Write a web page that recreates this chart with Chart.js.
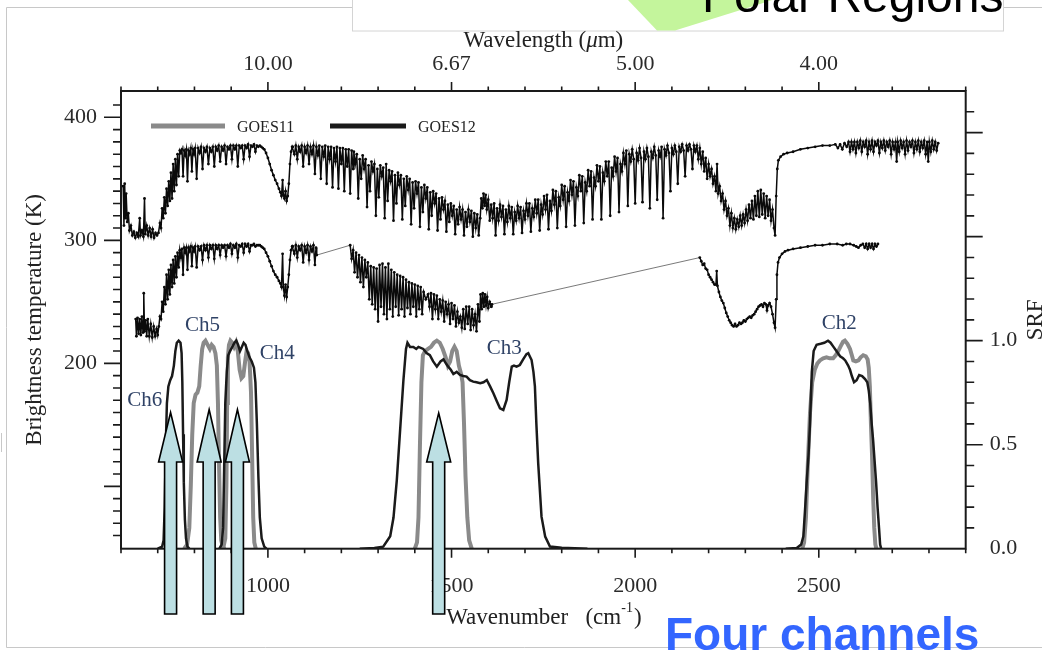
<!DOCTYPE html>
<html>
<head>
<meta charset="utf-8">
<title>GOES imager channels</title>
<script src="https://cdn.jsdelivr.net/npm/chart.js@4.4.1/dist/chart.umd.min.js"></script>
<style>
  html, body { margin: 0; padding: 0; background: #fff; }
  #wrap { position: relative; width: 1042px; height: 654px; overflow: hidden; }
  canvas { display: block; }
</style>
</head>
<body>
<div id="wrap"><canvas id="chart" width="1042" height="654"></canvas></div>
<script>
// Brightness temperature spectra (K) vs wavenumber (cm-1), warm scene on top
const upperSpectrum = [
  [606,344],[608,312],[610,346],[612,318],[614,338],[617,315],[620,322],[623,308],[627,312],[631,304],
  [635,307],[639,302],[643,306],[647,303],[651,318],[653,304],[657,308],[661,303],[664,334],[666,305],
  [670,312],[674,304],[678,310],[682,303],[686,309],[690,302],[694,306],[698,304],
  [702,306],[706,314],[709,310],[712,326],[715,318],[718,335],[721,322],[724,342],[727,328],[730,348],
  [733,332],[736,355],[739,334],[742,362],[745,340],[748,366],[751,345],[754,370],[757,352],[760,373],
  [763,371],[766,374],[769,352],[772,373],[775,369],[778,374],[781,348],[784,373],[787,370],[790,375],
  [793,356],[796,374],[799,370],[802,375],[806,350],[810,375],[814,371],[818,376],[822,358],[826,375],
  [830,372],[834,376],[838,362],[842,375],[846,372],[850,376],[854,360],[858,376],[862,373],[866,377],
  [870,364],[874,376],[878,373],[882,377],[886,362],[890,376],[894,374],[898,377],[902,366],[906,377],
  [910,374],[914,377],[918,360],[922,377],[926,375],[930,377],[934,366],[938,377],[942,375],[946,378],
  [950,368],[954,377],[958,376],[962,378],[966,372],[970,377],[974,376],[978,377],[982,376],
  [986,375],[990,374],[995,371],[1000,367],[1005,362],[1010,357],[1015,353],[1020,349],[1025,346],[1030,342],
  [1034,339],[1037,336],[1040,349],[1042,337],[1045,334],[1048,340],[1051,332],[1054,336],[1057,346],[1060,362],
  [1063,372],[1066,376],
  [1068,376],[1072,370],[1076,377],[1080,366],[1084,376],[1088,372],[1092,377],[1096,360],[1100,376],[1104,371],
  [1108,377],[1112,362],[1116,376],[1120,370],[1124,377],[1128,354],[1132,376],[1136,369],[1140,377],[1144,350],
  [1148,376],[1152,368],[1156,377],[1160,346],[1164,376],[1168,366],[1172,376],[1176,343],[1180,375],[1184,364],
  [1188,376],[1192,342],[1196,375],[1200,362],[1204,375],[1208,340],[1212,374],[1216,360],[1220,374],[1224,338],
  [1228,373],[1232,358],
  [1234,372],[1238,362],[1242,370],[1246,334],[1250,366],[1254,350],[1258,369],[1262,358],[1266,366],[1270,327],
  [1274,361],[1278,340],[1282,364],[1286,356],[1290,362],[1294,320],[1298,358],[1302,335],[1306,361],[1310,352],
  [1314,359],[1318,318],[1322,362],[1326,332],[1330,357],[1334,348],[1338,356],[1342,316],[1346,353],[1350,330],
  [1354,355],[1358,345],[1362,353],[1366,317],[1370,350],[1374,328],[1378,352],[1382,341],[1386,350],[1390,313],
  [1394,347],[1398,326],[1402,348],[1406,338],[1410,347],[1414,311],[1418,343],[1422,323],[1426,345],[1430,334],
  [1434,343],[1438,309],[1442,339],[1446,320],[1450,340],[1454,330],[1458,338],[1462,308],[1466,334],[1470,317],
  [1474,335],[1478,325],[1482,332],[1486,307],[1490,329],[1494,315],[1498,330],[1502,320],[1506,328],[1510,305],
  [1514,325],[1518,313],[1522,327],[1526,317],[1530,325],[1534,304],[1538,323],[1542,311],[1546,325],[1550,315],
  [1554,324],[1558,303],[1562,322],[1566,310],[1570,321],[1574,304],
  [1578,318],[1581,334],[1584,326],[1587,338],[1590,328],[1593,337],[1596,325],[1600,333],[1604,316],
  [1608,329],[1612,318],[1616,330],[1620,304],[1624,326],[1628,316],[1632,329],[1636,319],[1640,328],[1644,305],
  [1648,325],[1652,315],[1656,328],[1660,318],[1664,327],[1668,305],[1672,323],[1676,316],[1680,328],[1684,318],
  [1688,327],[1692,306],[1696,324],[1700,317],[1704,330],[1708,320],[1712,330],[1716,307],[1720,326],[1724,319],
  [1728,333],[1732,322],[1736,333],[1740,308],[1744,329],[1748,321],[1752,336],[1756,325],[1760,337],[1764,309],
  [1768,332],[1772,324],[1776,341],[1780,329],[1784,340],[1788,310],[1792,335],[1796,328],[1800,345],[1804,333],
  [1808,344],[1812,311],[1816,339],[1820,332],[1824,349],[1828,337],[1832,348],[1836,312],[1840,343],[1844,336],
  [1848,353],[1852,340],[1856,352],[1860,314],[1864,347],[1868,340],[1872,357],[1876,344],[1880,356],[1884,317],
  [1888,351],[1892,344],[1896,361],[1900,348],[1904,360],[1908,317],[1912,355],[1916,348],[1920,364],[1924,352],
  [1928,364],[1932,320],[1936,359],[1940,352],[1944,368],[1948,356],[1952,367],[1956,323],[1960,362],[1964,356],
  [1968,371],
  [1972,362],[1976,373],[1980,328],[1984,370],[1988,364],[1992,374],[1996,366],[2000,330],[2004,371],[2008,365],
  [2012,375],[2016,367],[2020,331],[2024,372],[2028,366],[2032,375],[2036,368],[2040,326],[2044,372],[2048,367],
  [2052,376],[2056,369],[2060,333],[2064,373],[2068,368],[2072,376],[2076,318],[2080,374],[2084,369],[2088,377],
  [2092,371],[2096,340],[2100,375],[2104,370],[2108,377],[2112,372],[2116,346],[2120,376],[2124,372],[2128,378],
  [2132,373],[2136,352],[2140,377],[2144,373],[2148,378],[2152,374],[2156,358],[2160,377],[2164,372],[2168,377],
  [2172,366],[2176,375],[2180,362],[2184,372],[2188,356],[2192,367],[2196,350],[2200,362],[2204,352],[2208,358],
  [2212,346],[2216,352],[2220,340],[2223,362],[2226,338],[2230,344],[2234,332],[2238,338],[2242,325],[2246,332],
  [2250,320],[2254,326],[2258,312],[2262,322],[2266,310],[2270,318],[2274,309],[2278,317],[2282,311],[2286,320],
  [2290,312],[2294,321],[2298,314],[2302,325],[2306,316],[2310,329],[2314,318],[2318,332],[2322,317],[2326,336],
  [2330,320],[2334,340],[2338,319],[2342,341],[2346,321],[2350,338],[2354,318],[2358,336],[2362,320],[2366,333],
  [2370,316],[2374,325],[2378,310],[2381,304],
  [2384,336],[2387,358],[2390,365],[2396,368],[2404,370],[2414,371],[2430,372],[2450,374],[2470,375],[2490,376],
  [2510,377],[2530,377],[2545,378],[2552,375],[2558,378],[2564,374],[2570,379],[2576,376],[2581,380],[2585,372],
  [2589,380],[2593,374],[2597,380],[2601,371],[2605,380],[2609,375],[2613,381],[2617,372],[2621,380],[2625,376],
  [2629,381],[2633,370],[2637,380],[2641,374],[2645,381],[2649,372],[2653,380],[2657,377],[2661,381],[2665,371],
  [2669,380],[2673,375],[2677,381],[2681,373],[2685,380],[2689,376],[2693,381],[2697,370],[2701,380],[2705,374],
  [2709,380],[2712,364],[2715,380],[2719,372],[2723,381],[2727,375],[2731,380],[2735,370],[2739,381],[2743,373],
  [2747,380],[2751,376],[2755,381],[2759,371],[2763,380],[2767,374],[2771,381],[2775,372],[2779,380],[2783,375],
  [2787,381],[2791,370],[2795,380],[2798,364],[2801,380],[2805,372],[2809,381],[2813,374],[2817,380],[2821,373],
  [2825,379]
];

// Cold scene spectrum; the long jumps are gaps bridged by a straight line
const lowerSpectrum = [
  [640,236],[642,222],[645,237],[648,224],[651,236],[654,223],[657,238],[660,225],[662,257],[664,226],
  [667,235],[670,222],[673,236],[677,222],[681,232],[685,221],[689,230],[693,222],[697,228],[700,223],
  [703,230],[706,238],[709,236],[712,250],[715,242],[718,262],[721,248],[724,272],[727,252],[730,276],
  [733,256],[736,280],[739,262],[742,284],[745,265],[748,287],[751,270],[754,290],[757,278],[760,292],
  [763,286],[766,293],[769,272],[772,294],[775,290],[778,294],[781,276],[784,294],[787,291],[790,295],
  [793,279],[796,294],[799,291],[802,295],[806,278],[810,295],[814,292],[818,295],[822,284],[826,296],
  [830,292],[834,296],[838,286],[842,296],[846,293],[850,296],[854,285],[858,296],[862,293],[866,296],
  [870,288],[874,296],[878,294],[882,296],[886,287],[890,296],[894,294],[898,297],[902,289],[906,296],
  [910,294],[914,297],[918,286],[922,296],[926,295],[930,297],[934,290],[938,297],[942,295],[946,297],
  [950,291],[954,296],[958,296],[962,297],[966,295],[970,296],[974,296],[978,296],[982,295],
  [986,294],[990,293],[995,290],[1000,287],[1005,283],[1010,279],[1015,275],[1020,272],[1025,270],[1030,267],
  [1034,265],[1037,262],[1040,289],[1042,262],[1045,255],[1048,264],[1051,254],[1054,262],[1057,272],[1060,284],
  [1063,292],[1066,295],
  [1068,295],[1072,289],[1076,296],[1080,286],[1084,295],[1088,292],[1092,296],[1096,282],[1100,295],[1104,290],
  [1108,296],[1112,284],[1116,295],[1120,291],[1124,296],[1128,280],[1131,294],[1133,288],
  [1224,296],[1228,285],[1232,292],[1236,274],[1240,290],[1244,270],[1248,288],[1252,266],[1256,286],[1260,262],
  [1264,284],[1268,270],[1272,282],[1276,252],[1280,279],[1284,248],[1288,278],[1292,244],[1296,277],[1300,234],
  [1304,280],[1308,246],[1312,281],[1316,240],[1320,278],[1324,236],[1328,281],[1332,244],[1336,276],[1340,238],
  [1344,274],[1348,246],[1352,272],[1356,239],[1360,271],[1364,244],[1368,270],[1372,238],[1376,268],[1380,245],
  [1384,266],[1388,240],[1392,265],[1396,246],[1400,264],[1404,238],[1408,263],[1412,244],[1416,262],[1420,240],
  [1424,258],[1430,252],[1436,256],[1440,246],[1444,257],[1448,236],[1452,256],[1456,244],[1460,255],[1464,236],
  [1468,252],[1472,242],[1476,251],[1480,234],[1484,250],[1488,240],[1492,248],[1496,232],[1500,249],[1504,236],
  [1508,247],[1512,230],[1516,242],[1520,233],[1524,238],[1528,229],[1532,244],[1536,228],[1540,246],[1544,232],
  [1548,246],[1552,227],[1556,244],[1560,231],[1564,240],[1568,226],[1572,248],[1576,234],[1579,256],[1582,244],
  [1585,257],[1588,246],[1591,256],[1594,247],[1597,254],[1600,245],[1604,250],[1608,246],[1610,248],
  [2176,286],[2180,283],[2184,280],[2188,281],[2192,277],[2196,276],[2200,272],[2204,270],[2208,268],[2212,266],
  [2216,264],[2220,264],[2222,275],[2224,263],[2228,258],[2232,254],[2236,251],[2240,249],[2244,245],[2248,241],
  [2252,238],[2256,235],[2260,233],[2264,231],[2268,230],[2272,232],[2276,230],[2280,231],[2284,233],[2288,232],
  [2292,233],[2296,235],[2300,234],[2304,236],[2308,237],[2312,238],[2316,237],[2320,239],[2324,240],[2328,242],
  [2332,244],[2336,246],[2340,247],[2344,248],[2348,246],[2352,249],[2356,248],[2359,243],[2362,247],[2366,249],
  [2370,246],[2374,240],[2378,233],[2381,229],
  [2384,252],[2386,272],[2389,282],[2393,286],[2400,289],[2408,291],[2416,292],[2430,293],[2450,294],[2470,295],
  [2490,296],[2510,296],[2530,297],[2550,297],[2565,296],[2575,297],[2585,297],[2595,296],[2602,295],[2608,294],
  [2614,296],[2620,297],[2625,294],[2629,297],[2633,293],[2637,297],[2641,294],[2645,297],[2649,293],[2653,297],
  [2657,295],[2661,297]
];

// Spectral response functions (normalised), GOES-12 imager
const srfCh6G12 = [[700,0],[712,0.01],[716,0.04],[719,0.2],[722,0.5],[725,0.7],[729,0.78],[734,0.81],[739,0.83],[744,0.88],[748,0.95],[752,0.99],[757,1.0],[762,0.99],[765,0.94],[767,0.8],[769,0.55],[771,0.32],[774,0.14],[777,0.05],[781,0.01],[786,0]];
const srfCh4G12 = [[868,0],[874,0.02],[878,0.1],[881,0.4],[884,0.7],[888,0.85],[892,0.93],[897,0.95],[903,0.97],[909,0.99],[914,1.0],[919,0.98],[924,0.95],[929,0.97],[934,0.99],[939,0.98],[944,0.95],[950,0.92],[956,0.9],[962,0.87],[966,0.8],[970,0.6],[974,0.35],[978,0.15],[983,0.05],[990,0.01],[996,0]];
const srfCh3G12 = [[1250,0],[1290,0.003],[1314,0.01],[1333,0.06],[1342,0.15],[1351,0.33],[1360,0.57],[1369,0.81],[1376,0.96],[1380,0.99],[1387,0.97],[1396,0.97],[1404,0.96],[1410,0.97],[1423,0.96],[1432,0.94],[1441,0.93],[1450,0.9],[1460,0.875],[1470,0.9],[1478,0.91],[1485,0.89],[1491,0.875],[1498,0.86],[1505,0.84],[1514,0.85],[1523,0.835],[1532,0.83],[1541,0.827],[1550,0.81],[1559,0.803],[1568,0.8],[1578,0.795],[1587,0.8],[1596,0.811],[1605,0.78],[1614,0.747],[1623,0.71],[1632,0.675],[1641,0.667],[1650,0.715],[1657,0.8],[1664,0.875],[1670,0.88],[1677,0.875],[1686,0.883],[1695,0.91],[1704,0.935],[1709,0.94],[1718,0.907],[1723,0.85],[1727,0.78],[1731,0.6],[1736,0.41],[1745,0.154],[1755,0.058],[1768,0.01],[1800,0.005],[1870,0]];
const srfCh2G12 = [[2410,0],[2440,0.003],[2452,0.02],[2458,0.06],[2463,0.2],[2467,0.32],[2472,0.45],[2476,0.6],[2481,0.85],[2486,0.95],[2494,0.98],[2505,0.985],[2515,0.99],[2525,1.0],[2532,0.99],[2540,0.97],[2548,0.95],[2558,0.925],[2566,0.915],[2572,0.905],[2580,0.88],[2585,0.86],[2590,0.83],[2596,0.8],[2603,0.81],[2610,0.835],[2618,0.83],[2626,0.815],[2632,0.8],[2636,0.76],[2640,0.7],[2644,0.6],[2648,0.52],[2652,0.42],[2656,0.32],[2660,0.2],[2664,0.1],[2667,0.02],[2670,0]];

// Spectral response functions, GOES-11 imager
const srfCh5G11 = [[772,0],[780,0.02],[786,0.1],[790,0.3],[794,0.55],[798,0.7],[803,0.74],[808,0.75],[813,0.78],[817,0.88],[821,0.96],[825,0.99],[830,1.0],[836,0.98],[842,0.96],[847,0.98],[852,0.97],[857,0.94],[861,0.88],[864,0.7],[867,0.4],[870,0.15],[873,0.04],[877,0.01],[882,0]];
const srfCh4G11 = [[878,0],[884,0.05],[887,0.3],[889,0.7],[891,0.92],[894,0.98],[898,1.0],[903,0.99],[908,0.97],[913,0.99],[918,0.95],[923,0.86],[928,0.82],[933,0.83],[938,0.9],[942,0.95],[946,0.94],[950,0.9],[954,0.75],[957,0.45],[960,0.15],[963,0.03],[967,0]];
const srfCh3G11 = [[1400,0],[1406,0.03],[1410,0.15],[1414,0.5],[1418,0.8],[1422,0.93],[1428,0.95],[1436,0.96],[1444,0.97],[1452,0.99],[1460,1.0],[1468,0.99],[1476,0.96],[1484,0.92],[1490,0.88],[1496,0.9],[1502,0.95],[1508,0.97],[1514,0.95],[1520,0.88],[1526,0.84],[1530,0.8],[1534,0.6],[1538,0.35],[1543,0.15],[1548,0.04],[1555,0]];
const srfCh2G11 = [[2455,0],[2460,0.03],[2465,0.15],[2470,0.4],[2476,0.65],[2482,0.8],[2489,0.86],[2496,0.89],[2503,0.905],[2512,0.915],[2521,0.92],[2530,0.915],[2539,0.915],[2546,0.93],[2553,0.95],[2560,0.975],[2566,0.995],[2571,1.0],[2578,0.985],[2585,0.96],[2590,0.93],[2594,0.905],[2601,0.9],[2608,0.905],[2614,0.92],[2621,0.93],[2628,0.925],[2633,0.91],[2636,0.87],[2639,0.78],[2642,0.6],[2645,0.45],[2648,0.25],[2651,0.1],[2654,0.02],[2657,0]];

// axis ticks
const wnTicks = [1000, 1500, 2000, 2500];
const btTicks = [200, 300, 400];
const srfTicks = [0, 0.5, 1.0];

const SERIF = '"Liberation Serif", "Times New Roman", serif';
const SANS = '"Liberation Sans", Arial, sans-serif';
const INK = '#1a1a1a';
const GRAY = '#8a8a8a';

const toXY = pairs => pairs.map(([x, y]) => ({ x, y }));

function srfLine(pairs, color, width) {
  return {
    data: toXY(pairs), yAxisID: 'y2', showLine: true,
    borderColor: color, borderWidth: width, pointRadius: 0
  };
}

function spectrumLine(pairs) {
  const isGap = c => c.p1.parsed.x - c.p0.parsed.x > 40;
  return {
    data: toXY(pairs), yAxisID: 'y', showLine: true,
    borderColor: '#0a0a0a', borderWidth: 1.5,
    pointRadius: 1.4, pointBorderWidth: 0, pointBackgroundColor: '#0a0a0a',
    segment: {
      borderColor: c => isGap(c) ? '#6a6a6a' : undefined,
      borderWidth: c => isGap(c) ? 0.9 : undefined
    }
  };
}

// first dataset ends up on top
const datasets = [
  srfLine(srfCh6G12, INK, 2.5),
  srfLine(srfCh4G12, INK, 2.5),
  srfLine(srfCh3G12, INK, 2.5),
  srfLine(srfCh2G12, INK, 2.5),
  srfLine(srfCh5G11, GRAY, 4),
  srfLine(srfCh4G11, GRAY, 4),
  srfLine(srfCh3G11, GRAY, 4),
  srfLine(srfCh2G11, GRAY, 4),
  spectrumLine(upperSpectrum),
  spectrumLine(lowerSpectrum)
];

const tickFont = { family: SERIF, size: 22 };

function fixedTicks(values) {
  return scale => { scale.ticks = values.map(v => ({ value: v })); };
}

// slide furniture behind the chart
function drawSlide(ctx) {
  ctx.save();
  ctx.fillStyle = '#fff';
  ctx.fillRect(0, 0, 1042, 654);
  ctx.strokeStyle = '#c8c8c8';
  ctx.lineWidth = 1;
  ctx.beginPath();
  ctx.moveTo(6.5, 647.5); ctx.lineTo(6.5, 7.5); ctx.lineTo(352, 7.5);
  ctx.moveTo(6.5, 647.5); ctx.lineTo(1042, 647.5);
  ctx.moveTo(1004, 7.5); ctx.lineTo(1042, 7.5);
  ctx.moveTo(1.5, 433); ctx.lineTo(1.5, 452);
  ctx.stroke();
  ctx.strokeStyle = '#d4d4d4';
  ctx.strokeRect(352.5, -2, 651, 33);
  ctx.fillStyle = '#c4f59c';
  ctx.beginPath();
  ctx.moveTo(628, 0); ctx.lineTo(657, 30.5); ctx.lineTo(675, 30.5); ctx.lineTo(760, 4); ctx.lineTo(772, 0);
  ctx.closePath(); ctx.fill();
  ctx.fillStyle = '#000';
  ctx.font = '48px ' + SANS;
  ctx.textBaseline = 'alphabetic';
  ctx.fillText('Polar Regions', 702, 12);
  ctx.restore();
}

function drawArrow(ctx, x, tipY, baseY, bottomY) {
  const shaft = 6, head = 12;
  ctx.beginPath();
  ctx.moveTo(x, tipY);
  ctx.lineTo(x + head, baseY);
  ctx.lineTo(x + shaft, baseY);
  ctx.lineTo(x + shaft, bottomY);
  ctx.lineTo(x - shaft, bottomY);
  ctx.lineTo(x - shaft, baseY);
  ctx.lineTo(x - head, baseY);
  ctx.closePath();
  ctx.fill();
  ctx.stroke();
}

const overlay = {
  id: 'overlay',
  beforeDraw(chart) { drawSlide(chart.ctx); },
  afterDraw(chart) {
    const ctx = chart.ctx;
    const a = chart.chartArea;
    const xs = chart.scales.x, yl = chart.scales.y, yr = chart.scales.y2;
    ctx.save();

    // frame and tick marks
    ctx.strokeStyle = INK;
    ctx.lineWidth = 2;
    ctx.strokeRect(a.left, a.top, a.right - a.left, a.bottom - a.top);
    ctx.lineWidth = 1.6;
    ctx.beginPath();
    for (let v = 600; v <= 2900; v += 100) {
      const px = xs.getPixelForValue(v);
      const len = v % 500 === 0 ? 9 : 4.5;
      ctx.moveTo(px, a.bottom); ctx.lineTo(px, a.bottom + len);
      ctx.moveTo(px, a.top); ctx.lineTo(px, a.top - len);
    }
    for (let v = 60; v <= 410; v += 10) {
      const py = yl.getPixelForValue(v);
      const len = v % 100 === 0 ? 17 : 8;
      ctx.moveTo(a.left, py); ctx.lineTo(a.left - len, py);
    }
    for (let i = 1; i <= 21; i++) {
      const py = yr.getPixelForValue(i / 10);
      const len = i % 5 === 0 ? 17 : 8.5;
      ctx.moveTo(a.right, py); ctx.lineTo(a.right + len, py);
    }
    ctx.stroke();

    // axis titles
    const cx = (a.left + a.right) / 2;
    const cy = (a.top + a.bottom) / 2;
    ctx.fillStyle = '#222';
    ctx.textBaseline = 'alphabetic';
    ctx.font = '23px ' + SERIF;
    const w1 = ctx.measureText('Wavelength (').width;
    ctx.font = 'italic 23px ' + SERIF;
    const w2 = ctx.measureText('\u03bc').width;
    ctx.font = '23px ' + SERIF;
    const w3 = ctx.measureText('m)').width;
    let tx = cx - (w1 + w2 + w3) / 2;
    ctx.textAlign = 'left';
    ctx.fillText('Wavelength (', tx, 47);
    ctx.font = 'italic 23px ' + SERIF;
    ctx.fillText('\u03bc', tx + w1, 47);
    ctx.font = '23px ' + SERIF;
    ctx.fillText('m)', tx + w1 + w2, 47);

    const b1 = ctx.measureText('Wavenumber   (cm').width;
    ctx.font = '14px ' + SERIF;
    const b2 = ctx.measureText('-1').width;
    ctx.font = '23px ' + SERIF;
    const b3 = ctx.measureText(')').width;
    tx = cx - (b1 + b2 + b3) / 2;
    ctx.fillText('Wavenumber   (cm', tx, 624);
    ctx.font = '14px ' + SERIF;
    ctx.fillText('-1', tx + b1, 612);
    ctx.font = '23px ' + SERIF;
    ctx.fillText(')', tx + b1 + b2 + 1, 624);

    ctx.textAlign = 'center';
    ctx.save();
    ctx.translate(41, cy);
    ctx.rotate(-Math.PI / 2);
    ctx.fillText('Brightness temperature (K)', 0, 0);
    ctx.restore();
    ctx.save();
    ctx.translate(1042, cy);
    ctx.rotate(-Math.PI / 2);
    ctx.fillText('SRF', 0, 0);
    ctx.restore();

    // legend
    const legendY = 126;
    ctx.lineWidth = 5;
    ctx.strokeStyle = GRAY;
    ctx.beginPath(); ctx.moveTo(151, legendY); ctx.lineTo(225, legendY); ctx.stroke();
    ctx.strokeStyle = INK;
    ctx.beginPath(); ctx.moveTo(330, legendY); ctx.lineTo(406, legendY); ctx.stroke();
    ctx.font = '16px ' + SERIF;
    ctx.fillStyle = '#222';
    ctx.textAlign = 'left';
    ctx.fillText('GOES11', 237, 132);
    ctx.fillText('GOES12', 418, 132);

    // channel names, anchored in wavenumber / SRF units
    ctx.font = '21px ' + SERIF;
    ctx.fillStyle = '#2f4266';
    [['Ch6', 617, 0.684], ['Ch5', 774, 1.047], ['Ch4', 978, 0.912], ['Ch3', 1596, 0.934], ['Ch2', 2508, 1.056]]
      .forEach(([t, wn, s]) => ctx.fillText(t, xs.getPixelForValue(wn), yr.getPixelForValue(s)));

    // arrows marking the four channels
    ctx.fillStyle = '#bcdfe3';
    ctx.strokeStyle = '#000';
    ctx.lineWidth = 1.6;
    ctx.lineJoin = 'miter';
    [[735, 412.5], [840, 409.5], [917, 409.5], [1465, 413]].forEach(([wn, tip]) =>
      drawArrow(ctx, xs.getPixelForValue(wn), tip, 462, 614));

    ctx.font = 'bold 46px ' + SANS;
    ctx.fillStyle = '#3366ff';
    ctx.fillText('Four channels', 665, 650);
    ctx.restore();
  }
};

new Chart(document.getElementById('chart'), {
  type: 'scatter',
  data: { datasets },
  options: {
    responsive: false,
    animation: false,
    devicePixelRatio: 1,
    layout: { padding: 0 },
    elements: { line: { tension: 0 } },
    plugins: { legend: { display: false }, tooltip: { enabled: false } },
    scales: {
      x: {
        type: 'linear', position: 'bottom', min: 600, max: 2900,
        afterBuildTicks: fixedTicks(wnTicks),
        afterFit: s => { s.height = 105.3; },
        grid: { display: false, drawTicks: false }, border: { display: false },
        ticks: { font: tickFont, color: '#2a2a2a', padding: 24, maxRotation: 0, callback: v => String(v) }
      },
      x2: {
        type: 'linear', axis: 'x', position: 'top', min: 600, max: 2900,
        afterBuildTicks: fixedTicks(wnTicks),
        afterFit: s => { s.height = 91; },
        grid: { display: false, drawTicks: false }, border: { display: false },
        ticks: { font: tickFont, color: '#2a2a2a', padding: 14, maxRotation: 0, callback: v => (10000 / v).toFixed(2) }
      },
      y: {
        type: 'linear', position: 'left', min: 49.3, max: 421.4,
        afterBuildTicks: fixedTicks(btTicks),
        afterFit: s => { s.width = 121; },
        grid: { display: false, drawTicks: false }, border: { display: false },
        ticks: { font: tickFont, color: '#2a2a2a', padding: 24, callback: v => String(v) }
      },
      y2: {
        type: 'linear', position: 'right', min: 0, max: 2.2,
        afterBuildTicks: fixedTicks(srfTicks),
        afterFit: s => { s.width = 76.3; },
        grid: { display: false, drawTicks: false }, border: { display: false },
        ticks: { font: tickFont, color: '#2a2a2a', padding: 24, callback: v => v.toFixed(1) }
      }
    }
  },
  plugins: [overlay]
});
</script>
</body>
</html>
